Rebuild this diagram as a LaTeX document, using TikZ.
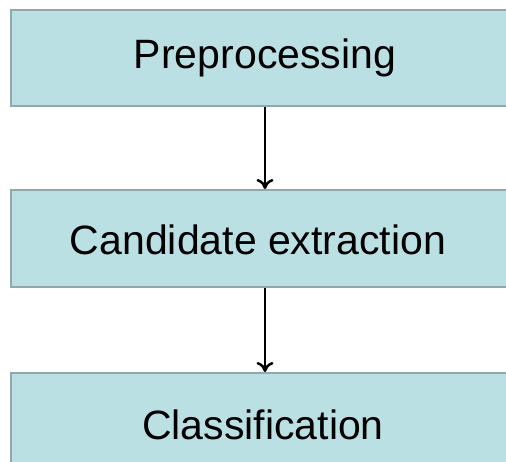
\documentclass[tikz,border=0pt]{standalone}
\usepackage{fontspec}
\setmainfont{Liberation Sans}
\usetikzlibrary{arrows.meta}
\definecolor{boxfill}{HTML}{BBE0E3}
\definecolor{boxline}{HTML}{8EA8AB}
\tikzset{
  stagefill/.style={fill=boxfill},
  stageedge/.style={draw=boxline, line width=2.4pt},
  stagetext/.style={font=\fontsize{41}{49}\selectfont, text=black},
  flowarrow/.style={draw=black, line width=2.5pt, -{To[length=10pt,width=17pt,line width=2.5pt]}}
}
\begin{document}
\begin{tikzpicture}[x=1pt,y=-1pt]
\useasboundingbox (0,0) rectangle (506,462);
\clip (0,0) rectangle (506,462);
\fill[stagefill] (11,10) rectangle (506,106);
\draw[stageedge] (506,10) -- (11,10) -- (11,106) -- (506,106);
\fill[stagefill] (11,190) rectangle (506,287);
\draw[stageedge] (506,190) -- (11,190) -- (11,287) -- (506,287);
\fill[stagefill] (11,373) rectangle (506,462);
\draw[stageedge] (506,373) -- (11,373) -- (11,462);
\node[stagetext] (t1) at (265,58) {Preprocessing};
\node[stagetext] (t2) at (258,240) {Candidate extraction};
\node[stagetext] (t3) at (263,425) {Classification};
\coordinate (a1s) at (265,107);
\coordinate (a1e) at (265,189);
\coordinate (a2s) at (265,288);
\coordinate (a2e) at (265,372);
\draw[flowarrow] (a1s) -- (a1e);
\draw[flowarrow] (a2s) -- (a2e);
\end{tikzpicture}
\end{document}
